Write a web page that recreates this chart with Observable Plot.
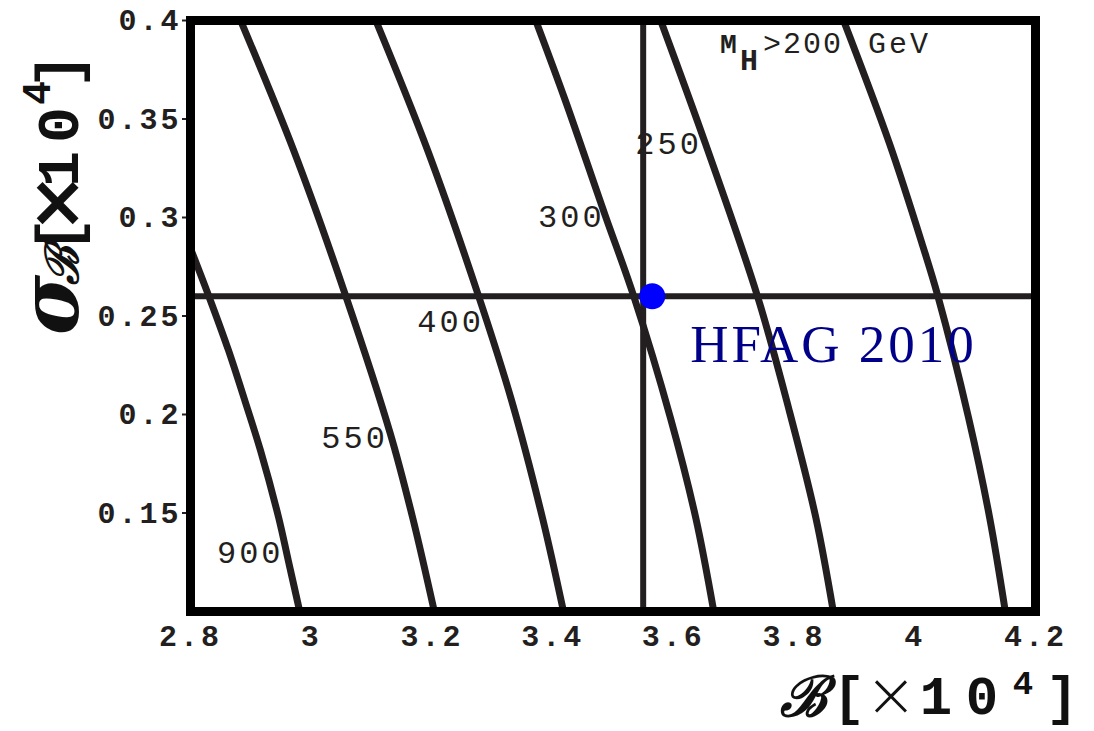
<!DOCTYPE html>
<html>
<head>
<meta charset="utf-8">
<script src="https://cdn.jsdelivr.net/npm/d3@7"></script>
<script src="https://cdn.jsdelivr.net/npm/@observablehq/plot@0.6"></script>
<style>
  html, body { margin: 0; padding: 0; background: #fff; }
  #chart svg { display: block; }
</style>
</head>
<body>
<div id="chart"></div>
<script>
// Axis ticks
const bTicks = [2.8, 3, 3.2, 3.4, 3.6, 3.8, 4, 4.2];
const sigmaTicks = [0.15, 0.2, 0.25, 0.3, 0.35, 0.4];

// Contours of constant charged-Higgs mass M_H (GeV) in the (B, sigma_B) plane, [B, sigma] points
const higgsMass = [900, 550, 400, 300, 250, 200];
const contour900 = [[2.800, 0.2843], [2.833, 0.2579], [2.863, 0.2325], [2.890, 0.2071], [2.916, 0.1817], [2.946, 0.1477], [2.962, 0.1259], [2.981, 0.1000]];
const contour550 = [[2.883, 0.4000], [2.971, 0.3340], [3.057, 0.2604], [3.131, 0.1904], [3.168, 0.1477], [3.204, 0.1000]];
const contour400 = [[3.107, 0.4000], [3.193, 0.3340], [3.277, 0.2604], [3.332, 0.2071], [3.383, 0.1477], [3.418, 0.1000]];
const contour300 = [[3.372, 0.4000], [3.421, 0.3594], [3.486, 0.3020], [3.534, 0.2604], [3.595, 0.1985], [3.637, 0.1477], [3.667, 0.1000]];
const contour250 = [[3.579, 0.4000], [3.653, 0.3376], [3.739, 0.2604], [3.792, 0.2020], [3.836, 0.1477], [3.865, 0.1000]];
const contour200 = [[3.882, 0.4000], [3.958, 0.3376], [4.013, 0.2858], [4.038, 0.2604], [4.089, 0.1985], [4.124, 0.1477], [4.150, 0.1000]];
const contours = [contour900, contour550, contour400, contour300, contour250, contour200];

// Inline contour labels
const labelMass = [900, 550, 400, 300, 250];
const labelB = [2.899, 3.072, 3.231, 3.431, 3.592];
const labelSigma = [0.130, 0.188, 0.247, 0.3005, 0.3376];

// HFAG 2010 world average: central value lines and point
const hfagB = 3.55;
const hfagSigma = 0.26;
const hfagPointB = 3.565;

const curveRows = contours.flatMap((pts, i) =>
  pts.map(([B, sigma]) => ({mass: higgsMass[i], B, sigma})));
const labelRows = labelMass.map((m, i) => ({mass: m, B: labelB[i], sigma: labelSigma[i]}));

const ink = "#231f20";

const chart = Plot.plot({
  width: 1094,
  height: 731,
  marginLeft: 190,
  marginRight: 59,
  marginTop: 20,
  marginBottom: 120,
  style: "font-family: 'Liberation Mono', monospace; font-size: 30px; font-weight: bold; letter-spacing: 3px; color: #231f20; background: #fff;",
  x: {domain: [2.8, 4.2]},
  y: {domain: [0.1, 0.4]},
  marks: [
    Plot.line(curveRows, {x: "B", y: "sigma", z: "mass", stroke: ink, strokeWidth: 7,
      curve: "catmull-rom", clip: true}),
    Plot.text(labelRows, {x: "B", y: "sigma", text: d => String(d.mass), fontSize: 32,
      fontWeight: "normal", fill: ink, ariaLabel: "contour-labels"}),
    Plot.ruleX([hfagB], {stroke: ink, strokeWidth: 6}),
    Plot.ruleY([hfagSigma], {stroke: ink, strokeWidth: 6}),
    Plot.dot([{B: hfagPointB, sigma: hfagSigma}], {x: "B", y: "sigma", r: 13, fill: "#0000ff", stroke: null}),
    Plot.text([{B: 3.628, sigma: 0.2355}], {x: "B", y: "sigma", text: () => "HFAG 2010",
      textAnchor: "start", fontSize: 53, fontFamily: "'Liberation Serif', serif",
      fontWeight: "normal", fill: "#000088", ariaLabel: "hfag-label"}),
    Plot.axisX({ticks: bTicks, tickSize: 0, tickPadding: 13, tickFormat: d => String(d), label: null}),
    Plot.axisY({ticks: sigmaTicks, tickSize: 8, tickPadding: 1, tickFormat: d => String(d),
      label: null, strokeWidth: 2}),
    Plot.frame({stroke: "black", strokeWidth: 9})
  ]
});

document.getElementById("chart").appendChild(chart);

const svg = d3.select(chart);
svg.selectAll('g[aria-label="hfag-label"] text').style("letter-spacing", "0px");
svg.selectAll('g[aria-label="contour-labels"] text').style("letter-spacing", "2px");

function piece(g, txt, x, y, size, family, opts = {}) {
  return g.append("text")
    .attr("x", x).attr("y", y)
    .attr("text-anchor", opts.anchor || "middle")
    .attr("font-family", family)
    .attr("font-size", size)
    .attr("font-weight", opts.weight || "bold")
    .attr("font-style", opts.style || "normal")
    .style("letter-spacing", opts.spacing || "0px")
    .text(txt);
}

const mono = "'Liberation Mono', monospace";
const serif = "'DejaVu Serif', serif";

// Horizontal axis title: ℬ [×10^4]
const xTitle = svg.append("g").attr("fill", "#111");
piece(xTitle, "ℬ", 803, 716, 56, serif, {style: "italic"});
piece(xTitle, "[", 849, 714, 54, mono);
piece(xTitle, "×", 891, 716, 62, "'DejaVu Sans', sans-serif", {weight: "200"});
piece(xTitle, "1", 936, 714, 54, mono);
piece(xTitle, "0", 982, 714, 54, mono);
piece(xTitle, "4", 1023, 694, 34, mono);
piece(xTitle, "]", 1062, 714, 54, mono);

// Vertical axis title: σ_ℬ [×10^4]
const yTitle = svg.append("g").attr("fill", "#111")
  .attr("transform", "translate(78,333) rotate(-90)");
piece(yTitle, "σ", 28, 0, 82, serif, {style: "italic"});
piece(yTitle, "ℬ", 68, 0, 46, serif, {style: "italic"});
piece(yTitle, "[", 98, 0, 60, mono);
piece(yTitle, "×", 130, 2, 72, "'DejaVu Sans', sans-serif");
piece(yTitle, "1", 164, 0, 60, mono);
piece(yTitle, "0", 208, 0, 60, mono);
piece(yTitle, "4", 240, -28, 40, mono);
piece(yTitle, "]", 262, 0, 60, mono);

// Mass cut annotation: M_H>200 GeV
const xs = chart.scale("x"), ys = chart.scale("y");
const mx = xs.apply(3.678), my = ys.apply(0.383);
const cut = svg.append("g").attr("fill", ink);
piece(cut, "M", mx, my, 28, mono, {anchor: "start", weight: "bold"});
piece(cut, "H", mx + 20, my + 17, 30, mono, {anchor: "start", weight: "bold"});
piece(cut, ">200", mx + 43, my, 30, mono, {anchor: "start", weight: "normal", spacing: "2px"});
piece(cut, "GeV", mx + 148, my, 30, mono, {anchor: "start", weight: "normal", spacing: "3px"});
</script>
</body>
</html>
